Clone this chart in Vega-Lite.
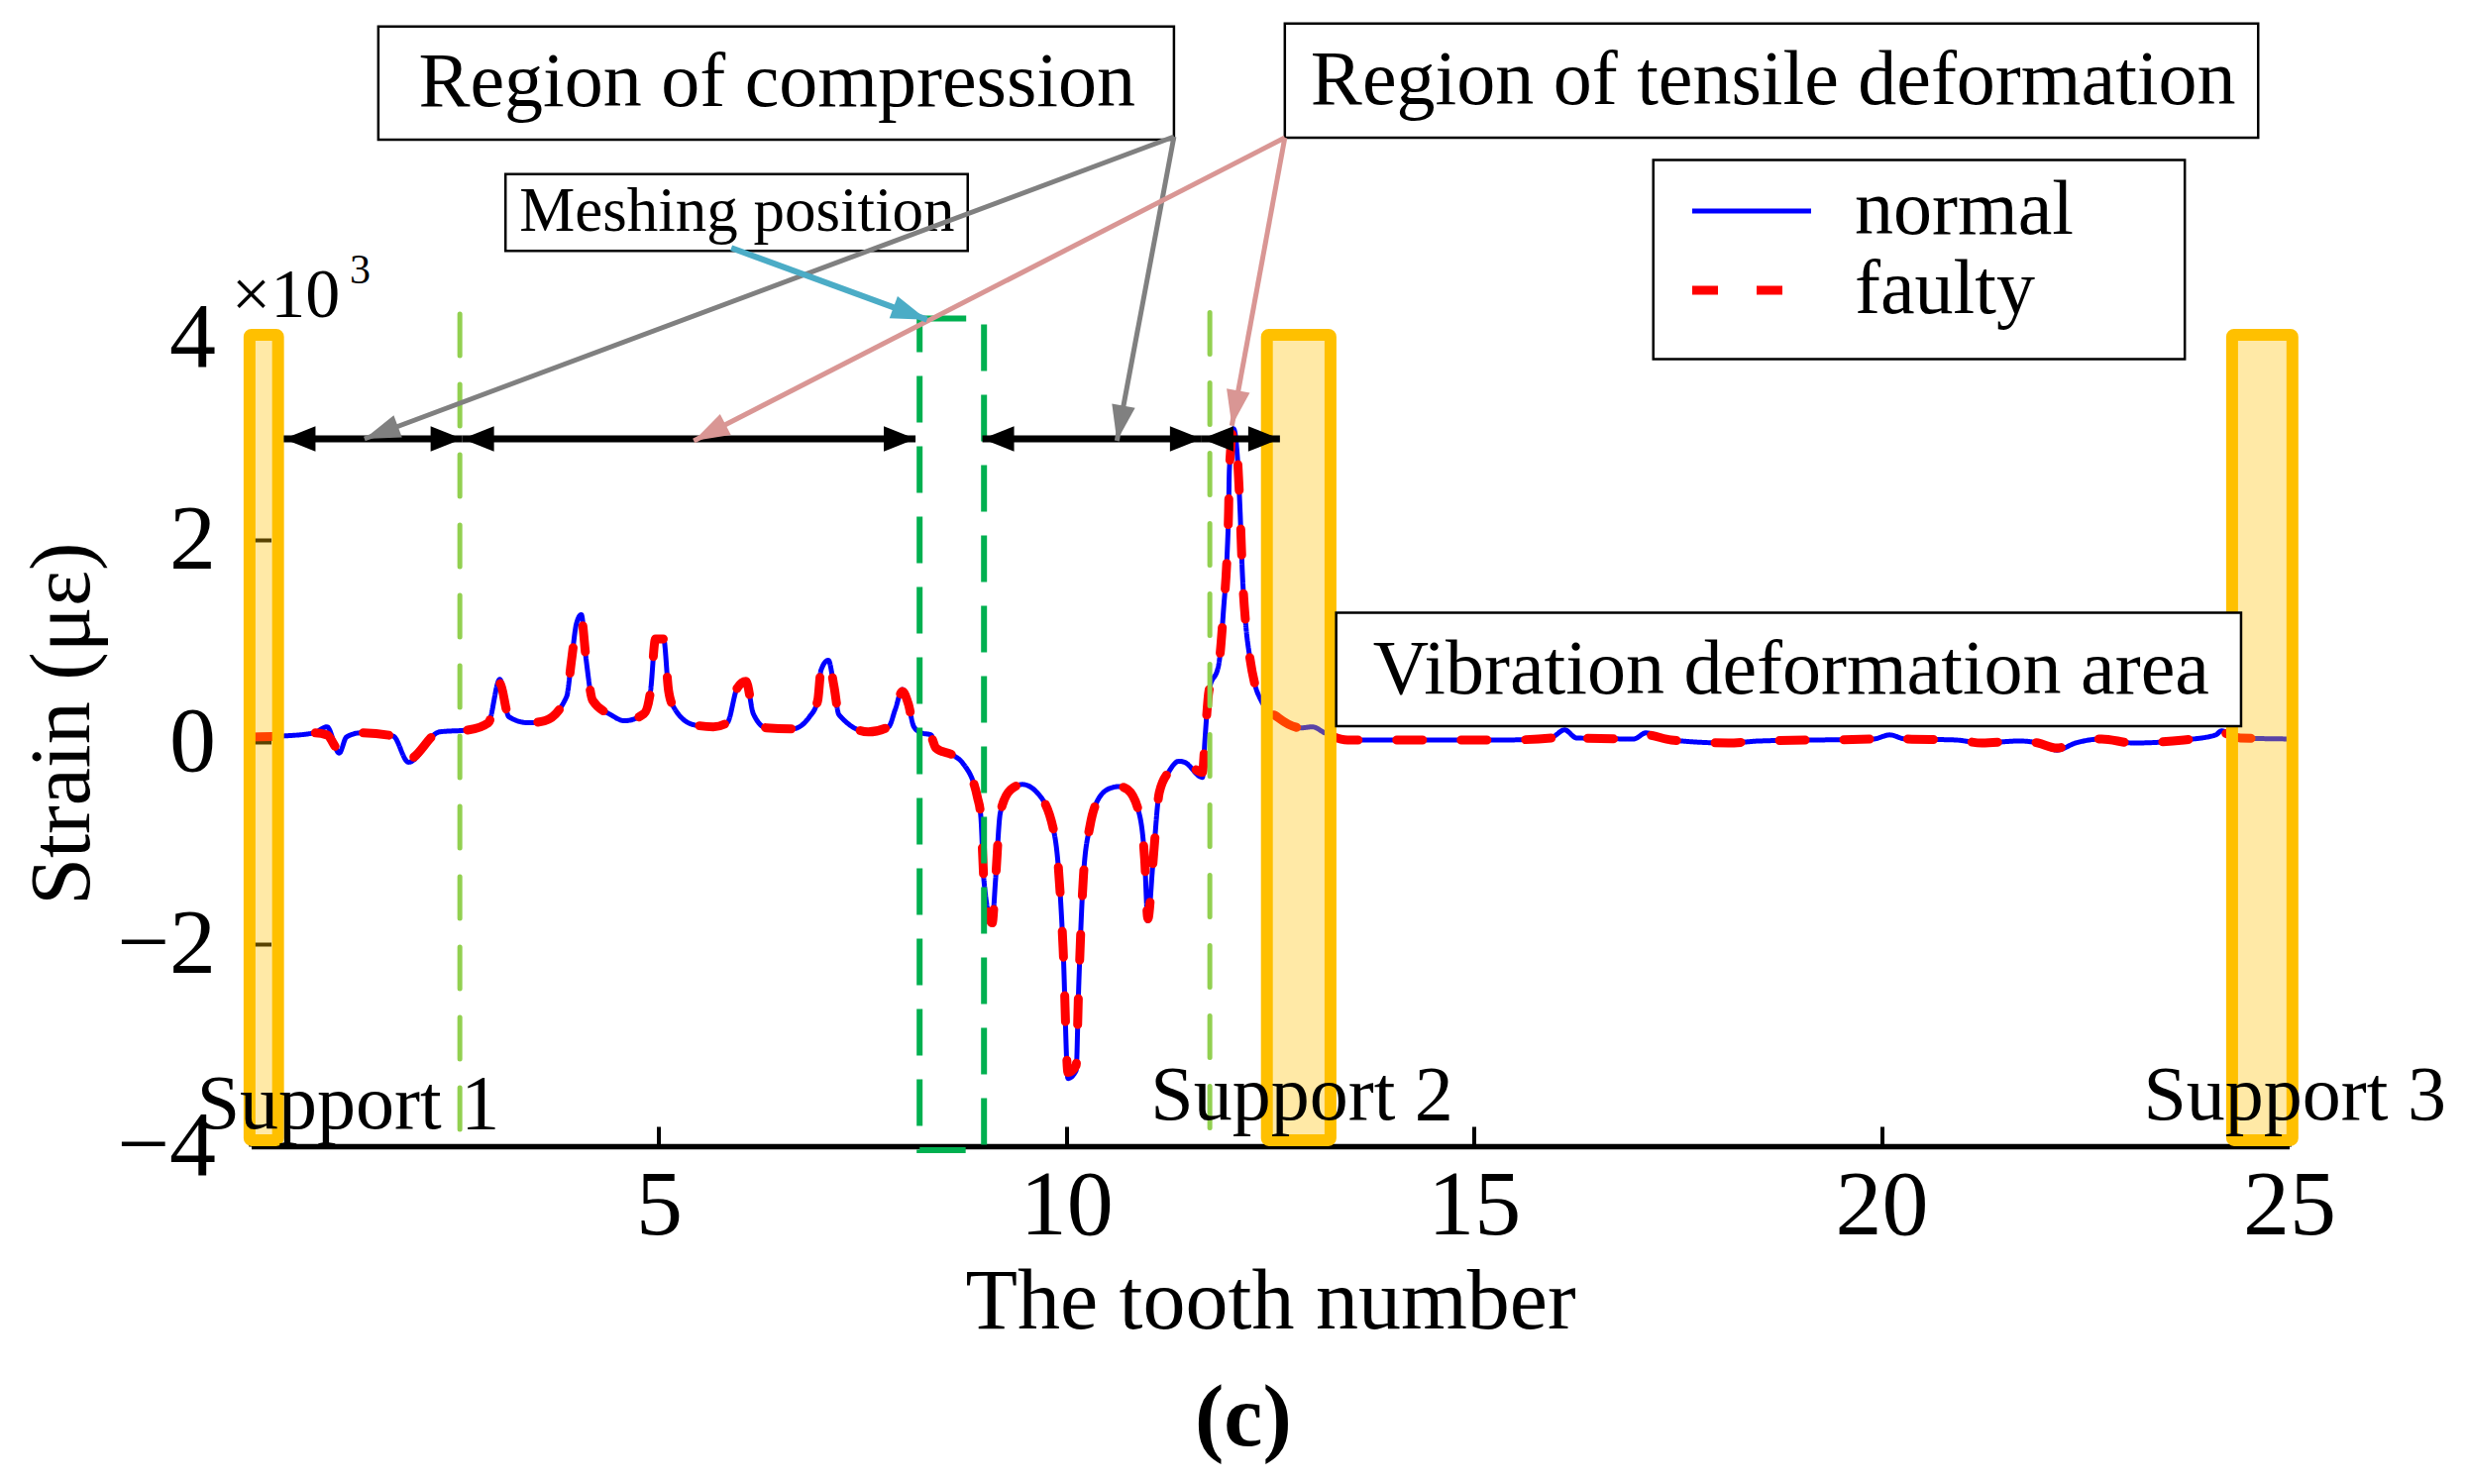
{
"$schema":"https://vega.github.io/schema/vega-lite/v6.json",
"width":2057,"height":816,
"autosize":{"type":"none"},
"padding":{"left":253.5,"top":341,"right":178.5,"bottom":341},
"background":"white",
"config":{
 "view":{"stroke":null},
 "font":"Liberation Serif",
 "axis":{"grid":false,"domainColor":"black","domainWidth":5.5,"tickColor":"black","tickWidth":4,"tickSize":-20,"labelFont":"Liberation Serif","labelFontSize":94,"labelColor":"black","labelFlush":false,"labelOverlap":false,"format":"d","titleFont":"Liberation Serif","titleFontSize":86,"titleFontWeight":"normal","titleColor":"black"},
 "legend":{"orient":"none","legendX":1475.5,"legendY":-167,"padding":0,"labelFont":"Liberation Serif","labelFontSize":78,"labelColor":"black","labelLimit":0,"labelOffset":65,"rowPadding":2,"symbolType":"M-2,0H2","symbolSize":3600,"symbolOffset":0}
},
"datasets":{
"curve":[
{"tooth":0,"strain":0.05,"series":"normal"},{"tooth":0.4,"strain":0.06,"series":"normal"},{"tooth":0.77,"strain":0.09,"series":"normal"},{"tooth":0.93,"strain":0.15,"series":"normal"},{"tooth":1.08,"strain":-0.11,"series":"normal"},{"tooth":1.17,"strain":0.05,"series":"normal"},{"tooth":1.34,"strain":0.09,"series":"normal"},{"tooth":1.74,"strain":0.06,"series":"normal"},{"tooth":1.93,"strain":-0.2,"series":"normal"},{"tooth":2.31,"strain":0.1,"series":"normal"},{"tooth":2.67,"strain":0.12,"series":"normal"},{"tooth":2.91,"strain":0.19,"series":"normal"},{"tooth":3.05,"strain":0.62,"series":"normal"},{"tooth":3.16,"strain":0.25,"series":"normal"},{"tooth":3.4,"strain":0.19,"series":"normal"},{"tooth":3.6,"strain":0.21,"series":"normal"},{"tooth":3.87,"strain":0.45,"series":"normal"},{"tooth":3.93,"strain":0.81,"series":"normal"},{"tooth":3.99,"strain":1.17,"series":"normal"},{"tooth":4.05,"strain":1.26,"series":"normal"},{"tooth":4.11,"strain":0.81,"series":"normal"},{"tooth":4.19,"strain":0.41,"series":"normal"},{"tooth":4.41,"strain":0.27,"series":"normal"},{"tooth":4.58,"strain":0.21,"series":"normal"},{"tooth":4.82,"strain":0.28,"series":"normal"},{"tooth":4.9,"strain":0.51,"series":"normal"},{"tooth":4.96,"strain":1.02,"series":"normal"},{"tooth":5.06,"strain":1.02,"series":"normal"},{"tooth":5.12,"strain":0.51,"series":"normal"},{"tooth":5.18,"strain":0.35,"series":"normal"},{"tooth":5.43,"strain":0.17,"series":"normal"},{"tooth":5.67,"strain":0.15,"series":"normal"},{"tooth":5.84,"strain":0.19,"series":"normal"},{"tooth":5.96,"strain":0.53,"series":"normal"},{"tooth":6.07,"strain":0.61,"series":"normal"},{"tooth":6.16,"strain":0.28,"series":"normal"},{"tooth":6.32,"strain":0.14,"series":"normal"},{"tooth":6.64,"strain":0.13,"series":"normal"},{"tooth":6.85,"strain":0.25,"series":"normal"},{"tooth":6.95,"strain":0.41,"series":"normal"},{"tooth":6.99,"strain":0.71,"series":"normal"},{"tooth":7.08,"strain":0.81,"series":"normal"},{"tooth":7.15,"strain":0.55,"series":"normal"},{"tooth":7.21,"strain":0.27,"series":"normal"},{"tooth":7.57,"strain":0.1,"series":"normal"},{"tooth":7.82,"strain":0.15,"series":"normal"},{"tooth":7.9,"strain":0.32,"series":"normal"},{"tooth":7.99,"strain":0.52,"series":"normal"},{"tooth":8.06,"strain":0.38,"series":"normal"},{"tooth":8.13,"strain":0.15,"series":"normal"},{"tooth":8.22,"strain":0.09,"series":"normal"},{"tooth":8.34,"strain":0.07,"series":"normal"},{"tooth":8.4,"strain":-0.06,"series":"normal"},{"tooth":8.63,"strain":-0.14,"series":"normal"},{"tooth":8.73,"strain":-0.21,"series":"normal"},{"tooth":8.91,"strain":-0.55,"series":"normal"},{"tooth":8.95,"strain":-0.73,"series":"normal"},{"tooth":8.99,"strain":-1.38,"series":"normal"},{"tooth":9.09,"strain":-1.79,"series":"normal"},{"tooth":9.13,"strain":-1.38,"series":"normal"},{"tooth":9.19,"strain":-0.7,"series":"normal"},{"tooth":9.32,"strain":-0.47,"series":"normal"},{"tooth":9.46,"strain":-0.42,"series":"normal"},{"tooth":9.64,"strain":-0.5,"series":"normal"},{"tooth":9.84,"strain":-0.86,"series":"normal"},{"tooth":9.9,"strain":-1.22,"series":"normal"},{"tooth":9.96,"strain":-2.04,"series":"normal"},{"tooth":10.02,"strain":-3.33,"series":"normal"},{"tooth":10.12,"strain":-3.25,"series":"normal"},{"tooth":10.15,"strain":-2.46,"series":"normal"},{"tooth":10.21,"strain":-1.32,"series":"normal"},{"tooth":10.29,"strain":-0.83,"series":"normal"},{"tooth":10.37,"strain":-0.6,"series":"normal"},{"tooth":10.53,"strain":-0.46,"series":"normal"},{"tooth":10.65,"strain":-0.44,"series":"normal"},{"tooth":10.75,"strain":-0.47,"series":"normal"},{"tooth":10.9,"strain":-0.73,"series":"normal"},{"tooth":10.96,"strain":-1.15,"series":"normal"},{"tooth":11.0,"strain":-1.77,"series":"normal"},{"tooth":11.06,"strain":-1.22,"series":"normal"},{"tooth":11.14,"strain":-0.5,"series":"normal"},{"tooth":11.26,"strain":-0.29,"series":"normal"},{"tooth":11.38,"strain":-0.19,"series":"normal"},{"tooth":11.45,"strain":-0.2,"series":"normal"},{"tooth":11.67,"strain":-0.35,"series":"normal"},{"tooth":11.7,"strain":0.02,"series":"normal"},{"tooth":11.75,"strain":0.51,"series":"normal"},{"tooth":11.87,"strain":0.77,"series":"normal"},{"tooth":11.93,"strain":1.33,"series":"normal"},{"tooth":11.97,"strain":1.82,"series":"normal"},{"tooth":11.99,"strain":2.28,"series":"normal"},{"tooth":12.0,"strain":2.7,"series":"normal"},{"tooth":12.05,"strain":3.1,"series":"normal"},{"tooth":12.1,"strain":2.8,"series":"normal"},{"tooth":12.13,"strain":2.31,"series":"normal"},{"tooth":12.16,"strain":1.66,"series":"normal"},{"tooth":12.2,"strain":1.17,"series":"normal"},{"tooth":12.25,"strain":0.84,"series":"normal"},{"tooth":12.31,"strain":0.58,"series":"normal"},{"tooth":12.39,"strain":0.41,"series":"normal"},{"tooth":12.6,"strain":0.24,"series":"normal"},{"tooth":12.88,"strain":0.14,"series":"normal"},{"tooth":13.02,"strain":0.15,"series":"normal"},{"tooth":13.17,"strain":0.09,"series":"normal"},{"tooth":13.45,"strain":0.02,"series":"normal"},{"tooth":15.41,"strain":0.02,"series":"normal"},{"tooth":15.96,"strain":0.05,"series":"normal"},{"tooth":16.11,"strain":0.12,"series":"normal"},{"tooth":16.26,"strain":0.04,"series":"normal"},{"tooth":16.96,"strain":0.03,"series":"normal"},{"tooth":17.11,"strain":0.09,"series":"normal"},{"tooth":17.42,"strain":0.02,"series":"normal"},{"tooth":18.12,"strain":-0.01,"series":"normal"},{"tooth":18.5,"strain":0.01,"series":"normal"},{"tooth":19.9,"strain":0.03,"series":"normal"},{"tooth":20.1,"strain":0.07,"series":"normal"},{"tooth":20.29,"strain":0.03,"series":"normal"},{"tooth":20.91,"strain":0.02,"series":"normal"},{"tooth":21.23,"strain":-0.01,"series":"normal"},{"tooth":21.69,"strain":0.01,"series":"normal"},{"tooth":21.92,"strain":-0.01,"series":"normal"},{"tooth":22.15,"strain":-0.08,"series":"normal"},{"tooth":22.38,"strain":-0.01,"series":"normal"},{"tooth":22.7,"strain":0.03,"series":"normal"},{"tooth":23.09,"strain":-0.01,"series":"normal"},{"tooth":23.71,"strain":0.02,"series":"normal"},{"tooth":24.1,"strain":0.07,"series":"normal"},{"tooth":24.17,"strain":0.11,"series":"normal"},{"tooth":24.4,"strain":0.04,"series":"normal"},{"tooth":25.0,"strain":0.03,"series":"normal"},
{"tooth":0,"strain":0.05,"series":"faulty"},{"tooth":0.4,"strain":0.06,"series":"faulty"},{"tooth":0.77,"strain":0.09,"series":"faulty"},{"tooth":0.93,"strain":0.07,"series":"faulty"},{"tooth":1.08,"strain":-0.08,"series":"faulty"},{"tooth":1.17,"strain":0.05,"series":"faulty"},{"tooth":1.34,"strain":0.09,"series":"faulty"},{"tooth":1.74,"strain":0.06,"series":"faulty"},{"tooth":1.93,"strain":-0.17,"series":"faulty"},{"tooth":2.31,"strain":0.1,"series":"faulty"},{"tooth":2.67,"strain":0.12,"series":"faulty"},{"tooth":2.91,"strain":0.19,"series":"faulty"},{"tooth":3.05,"strain":0.58,"series":"faulty"},{"tooth":3.16,"strain":0.25,"series":"faulty"},{"tooth":3.4,"strain":0.19,"series":"faulty"},{"tooth":3.6,"strain":0.21,"series":"faulty"},{"tooth":3.87,"strain":0.45,"series":"faulty"},{"tooth":3.93,"strain":0.81,"series":"faulty"},{"tooth":3.99,"strain":1.15,"series":"faulty"},{"tooth":4.05,"strain":1.22,"series":"faulty"},{"tooth":4.11,"strain":0.81,"series":"faulty"},{"tooth":4.19,"strain":0.41,"series":"faulty"},{"tooth":4.41,"strain":0.27,"series":"faulty"},{"tooth":4.58,"strain":0.21,"series":"faulty"},{"tooth":4.82,"strain":0.28,"series":"faulty"},{"tooth":4.9,"strain":0.51,"series":"faulty"},{"tooth":4.96,"strain":1.02,"series":"faulty"},{"tooth":5.06,"strain":1.02,"series":"faulty"},{"tooth":5.12,"strain":0.51,"series":"faulty"},{"tooth":5.18,"strain":0.35,"series":"faulty"},{"tooth":5.43,"strain":0.17,"series":"faulty"},{"tooth":5.67,"strain":0.15,"series":"faulty"},{"tooth":5.84,"strain":0.19,"series":"faulty"},{"tooth":5.96,"strain":0.53,"series":"faulty"},{"tooth":6.07,"strain":0.6,"series":"faulty"},{"tooth":6.16,"strain":0.28,"series":"faulty"},{"tooth":6.32,"strain":0.14,"series":"faulty"},{"tooth":6.64,"strain":0.13,"series":"faulty"},{"tooth":6.85,"strain":0.25,"series":"faulty"},{"tooth":6.95,"strain":0.41,"series":"faulty"},{"tooth":6.99,"strain":0.71,"series":"faulty"},{"tooth":7.08,"strain":0.81,"series":"faulty"},{"tooth":7.15,"strain":0.55,"series":"faulty"},{"tooth":7.21,"strain":0.27,"series":"faulty"},{"tooth":7.57,"strain":0.1,"series":"faulty"},{"tooth":7.82,"strain":0.15,"series":"faulty"},{"tooth":7.9,"strain":0.32,"series":"faulty"},{"tooth":7.99,"strain":0.5,"series":"faulty"},{"tooth":8.06,"strain":0.38,"series":"faulty"},{"tooth":8.13,"strain":0.15,"series":"faulty"},{"tooth":8.22,"strain":0.09,"series":"faulty"},{"tooth":8.34,"strain":0.05,"series":"faulty"},{"tooth":8.4,"strain":-0.06,"series":"faulty"},{"tooth":8.63,"strain":-0.14,"series":"faulty"},{"tooth":8.73,"strain":-0.21,"series":"faulty"},{"tooth":8.91,"strain":-0.55,"series":"faulty"},{"tooth":8.95,"strain":-0.73,"series":"faulty"},{"tooth":8.99,"strain":-1.38,"series":"faulty"},{"tooth":9.09,"strain":-1.79,"series":"faulty"},{"tooth":9.13,"strain":-1.38,"series":"faulty"},{"tooth":9.19,"strain":-0.7,"series":"faulty"},{"tooth":9.32,"strain":-0.47,"series":"faulty"},{"tooth":9.46,"strain":-0.42,"series":"faulty"},{"tooth":9.64,"strain":-0.5,"series":"faulty"},{"tooth":9.84,"strain":-0.86,"series":"faulty"},{"tooth":9.9,"strain":-1.22,"series":"faulty"},{"tooth":9.96,"strain":-2.04,"series":"faulty"},{"tooth":10.02,"strain":-3.27,"series":"faulty"},{"tooth":10.12,"strain":-3.2,"series":"faulty"},{"tooth":10.15,"strain":-2.46,"series":"faulty"},{"tooth":10.21,"strain":-1.32,"series":"faulty"},{"tooth":10.29,"strain":-0.83,"series":"faulty"},{"tooth":10.37,"strain":-0.6,"series":"faulty"},{"tooth":10.53,"strain":-0.46,"series":"faulty"},{"tooth":10.65,"strain":-0.44,"series":"faulty"},{"tooth":10.75,"strain":-0.47,"series":"faulty"},{"tooth":10.9,"strain":-0.73,"series":"faulty"},{"tooth":10.96,"strain":-1.15,"series":"faulty"},{"tooth":11.0,"strain":-1.75,"series":"faulty"},{"tooth":11.06,"strain":-1.22,"series":"faulty"},{"tooth":11.14,"strain":-0.5,"series":"faulty"},{"tooth":11.26,"strain":-0.29,"series":"faulty"},{"tooth":11.38,"strain":-0.19,"series":"faulty"},{"tooth":11.45,"strain":-0.2,"series":"faulty"},{"tooth":11.67,"strain":-0.3,"series":"faulty"},{"tooth":11.7,"strain":0.02,"series":"faulty"},{"tooth":11.75,"strain":0.51,"series":"faulty"},{"tooth":11.87,"strain":0.77,"series":"faulty"},{"tooth":11.93,"strain":1.33,"series":"faulty"},{"tooth":11.97,"strain":1.82,"series":"faulty"},{"tooth":11.99,"strain":2.28,"series":"faulty"},{"tooth":12.0,"strain":2.7,"series":"faulty"},{"tooth":12.05,"strain":3.08,"series":"faulty"},{"tooth":12.1,"strain":2.8,"series":"faulty"},{"tooth":12.13,"strain":2.31,"series":"faulty"},{"tooth":12.16,"strain":1.66,"series":"faulty"},{"tooth":12.2,"strain":1.17,"series":"faulty"},{"tooth":12.25,"strain":0.84,"series":"faulty"},{"tooth":12.31,"strain":0.58,"series":"faulty"},{"tooth":12.39,"strain":0.41,"series":"faulty"},{"tooth":12.6,"strain":0.24,"series":"faulty"},{"tooth":12.88,"strain":0.14,"series":"faulty"},{"tooth":13.02,"strain":0.15,"series":"faulty"},{"tooth":13.17,"strain":0.09,"series":"faulty"},{"tooth":13.45,"strain":0.02,"series":"faulty"},{"tooth":15.41,"strain":0.02,"series":"faulty"},{"tooth":15.96,"strain":0.04,"series":"faulty"},{"tooth":16.11,"strain":0.09,"series":"faulty"},{"tooth":16.26,"strain":0.04,"series":"faulty"},{"tooth":16.96,"strain":0.03,"series":"faulty"},{"tooth":17.11,"strain":0.07,"series":"faulty"},{"tooth":17.42,"strain":0.02,"series":"faulty"},{"tooth":18.12,"strain":-0.01,"series":"faulty"},{"tooth":18.5,"strain":0.01,"series":"faulty"},{"tooth":19.9,"strain":0.03,"series":"faulty"},{"tooth":20.1,"strain":0.06,"series":"faulty"},{"tooth":20.29,"strain":0.03,"series":"faulty"},{"tooth":20.91,"strain":0.02,"series":"faulty"},{"tooth":21.23,"strain":-0.01,"series":"faulty"},{"tooth":21.69,"strain":0.01,"series":"faulty"},{"tooth":21.92,"strain":-0.01,"series":"faulty"},{"tooth":22.15,"strain":-0.06,"series":"faulty"},{"tooth":22.38,"strain":-0.01,"series":"faulty"},{"tooth":22.7,"strain":0.03,"series":"faulty"},{"tooth":23.09,"strain":-0.01,"series":"faulty"},{"tooth":23.71,"strain":0.02,"series":"faulty"},{"tooth":24.1,"strain":0.06,"series":"faulty"},{"tooth":24.17,"strain":0.09,"series":"faulty"},{"tooth":24.4,"strain":0.04,"series":"faulty"},{"tooth":25.0,"strain":0.03,"series":"faulty"}
],
"guides":[{"x":2.56,"ytop":4.235,"ybot":-3.86},{"x":11.76,"ytop":4.25,"ybot":-3.86}],
"mesh":[{"x1":8.2,"x2":8.99,"ytop":4.19,"ybot":-4.04}],
"supports":[
 {"label":"Support 1","x1":-0.02,"x2":0.33,"ytop":4.03,"ybot":-3.94,"lx":1.19,"ly":-3.82},
 {"label":"Support 2","x1":12.46,"x2":13.24,"ytop":4.03,"ybot":-3.94,"lx":12.89,"ly":-3.735},
 {"label":"Support 3","x1":24.3,"x2":25.04,"ytop":4.03,"ybot":-3.94,"lx":25.07,"ly":-3.735}
],
"spans":[{"x1":0.4,"x2":2.59,"y":3},{"x1":2.59,"x2":8.15,"y":3},{"x1":8.97,"x2":11.66,"y":3},{"x1":11.66,"x2":12.62,"y":3}],
"boxes":[
 {"kind":"big","text":"Region of compression","x1":1.56,"x2":11.32,"y1":7.08,"y2":5.96,"tx":6.45,"ty":6.29},
 {"kind":"small","text":"Meshing position","x1":3.12,"x2":8.79,"y1":5.62,"y2":4.86,"tx":5.96,"ty":5.06},
 {"kind":"big","text":"Region of tensile deformation","x1":12.68,"x2":24.62,"y1":7.11,"y2":5.98,"tx":18.67,"ty":6.31},
 {"kind":"big","text":"Vibration deformation area","x1":13.31,"x2":24.41,"y1":1.28,"y2":0.157,"tx":18.89,"ty":0.48},
 {"kind":"legend","text":"","x1":17.2,"x2":23.72,"y1":5.76,"y2":3.79,"tx":20,"ty":5}
],
"pointers":[
 {"id":"g1","kind":"gray","x1":11.32,"y1":5.99,"x2":1.39,"y2":3.0},
 {"id":"g2","kind":"gray","x1":11.32,"y1":5.99,"x2":10.62,"y2":2.98},
 {"id":"p1","kind":"pink","x1":12.68,"y1":5.98,"x2":5.43,"y2":2.98},
 {"id":"p2","kind":"pink","x1":12.68,"y1":5.98,"x2":12.03,"y2":3.13},
 {"id":"b1","kind":"blue","x1":5.89,"y1":4.89,"x2":8.29,"y2":4.18}
],
"notes":[
 {"kind":"exp","text":"×10","x":-0.24,"y":4.21},
 {"kind":"sup","text":"3","x":1.21,"y":4.54},
 {"kind":"caption","text":"(c)","x":12.17,"y":-6.96}
]
},
"layer":[
 {"data":{"name":"curve"},"transform":[{"filter":"datum.series === 'normal'"}],
  "mark":{"type":"line","interpolate":"monotone"},
  "encoding":{
   "x":{"field":"tooth","type":"quantitative","scale":{"domain":[0,25],"nice":false,"zero":false},"axis":{"values":[5,10,15,20,25],"labelPadding":34,"title":"The tooth number","titleBaseline":"alphabetic","titleY":183}},
   "y":{"field":"strain","type":"quantitative","scale":{"domain":[-4,4],"nice":false,"zero":false},"axis":{"values":[-4,-2,0,2,4],"labelPadding":56,"title":"Strain (με)","titleBaseline":"alphabetic","titleX":-164,"titleY":389}},
   "color":{"field":"series","type":"nominal","scale":{"domain":["normal","faulty"],"range":["#0000FF","#FF0000"]},"legend":{"title":null,"labelExpr":"datum.label == 'faulty' ? '\u2002faulty' : datum.label"}},
   "strokeDash":{"field":"series","type":"nominal","scale":{"domain":["normal","faulty"],"range":[[1,0],[26,39]]},"legend":{"title":null,"labelExpr":"datum.label == 'faulty' ? '\u2002faulty' : datum.label"}},
   "strokeWidth":{"field":"series","type":"nominal","scale":{"domain":["normal","faulty"],"range":[5,9]},"legend":{"title":null,"labelExpr":"datum.label == 'faulty' ? '\u2002faulty' : datum.label"}}
  }},
 {"data":{"name":"curve"},"transform":[{"filter":"datum.series === 'faulty'"}],
  "mark":{"type":"line","interpolate":"monotone","strokeCap":"round"},
  "encoding":{
   "x":{"field":"tooth","type":"quantitative"},
   "y":{"field":"strain","type":"quantitative"},
   "color":{"field":"series","type":"nominal","scale":{"domain":["normal","faulty"],"range":["#0000FF","#FF0000"]},"legend":{"title":null,"labelExpr":"datum.label == 'faulty' ? '\u2002faulty' : datum.label"}},
   "strokeDash":{"field":"series","type":"nominal","scale":{"domain":["normal","faulty"],"range":[[1,0],[26,39]]},"legend":{"title":null,"labelExpr":"datum.label == 'faulty' ? '\u2002faulty' : datum.label"}},
   "strokeWidth":{"field":"series","type":"nominal","scale":{"domain":["normal","faulty"],"range":[5,9]},"legend":{"title":null,"labelExpr":"datum.label == 'faulty' ? '\u2002faulty' : datum.label"}}
  }},
 {"data":{"name":"guides"},"mark":{"type":"rule","color":"#92D050","strokeWidth":5,"strokeDash":[42,29],"strokeCap":"round"},
  "encoding":{"x":{"field":"x","type":"quantitative"},"y":{"field":"ytop","type":"quantitative"},"y2":{"field":"ybot"}}},
 {"data":{"name":"mesh"},"mark":{"type":"rect","fill":"white","fillOpacity":0,"stroke":"#00B050","strokeWidth":6,"strokeDash":[47,24]},
  "encoding":{"x":{"field":"x1","type":"quantitative"},"x2":{"field":"x2"},"y":{"field":"ytop","type":"quantitative"},"y2":{"field":"ybot"}}},
 {"data":{"name":"supports"},"mark":{"type":"rect","fill":"#FFC000","fillOpacity":0.35,"stroke":"#FFC000","strokeOpacity":1,"strokeWidth":12,"strokeJoin":"round","cornerRadius":2},
  "encoding":{"x":{"field":"x1","type":"quantitative"},"x2":{"field":"x2"},"y":{"field":"ytop","type":"quantitative"},"y2":{"field":"ybot"}}},
 {"data":{"name":"spans"},"mark":{"type":"rule","color":"black","strokeWidth":7},
  "encoding":{"x":{"field":"x1","type":"quantitative"},"x2":{"field":"x2"},"y":{"field":"y","type":"quantitative"}}},
 {"data":{"name":"spans"},"mark":{"type":"point","shape":"M0,0L1,-0.4L1,0.4Z","filled":true,"size":4096,"color":"black","opacity":1,"strokeWidth":0},
  "encoding":{"x":{"field":"x1","type":"quantitative"},"y":{"field":"y","type":"quantitative"}}},
 {"data":{"name":"spans"},"mark":{"type":"point","shape":"M0,0L-1,-0.4L-1,0.4Z","filled":true,"size":4096,"color":"black","opacity":1,"strokeWidth":0},
  "encoding":{"x":{"field":"x2","type":"quantitative"},"y":{"field":"y","type":"quantitative"}}},
 {"data":{"name":"boxes"},"mark":{"type":"rect","fill":"white","stroke":"black","strokeWidth":2.5},
  "encoding":{"x":{"field":"x1","type":"quantitative"},"x2":{"field":"x2"},"y":{"field":"y1","type":"quantitative"},"y2":{"field":"y2"}}},
 {"data":{"name":"boxes"},"transform":[{"filter":"datum.kind === 'big'"}],"mark":{"type":"text","font":"Liberation Serif","fontSize":78,"color":"black","align":"center","baseline":"alphabetic"},
  "encoding":{"x":{"field":"tx","type":"quantitative"},"y":{"field":"ty","type":"quantitative"},"text":{"field":"text"}}},
 {"data":{"name":"boxes"},"transform":[{"filter":"datum.kind === 'small'"}],"mark":{"type":"text","font":"Liberation Serif","fontSize":63,"color":"black","align":"center","baseline":"alphabetic"},
  "encoding":{"x":{"field":"tx","type":"quantitative"},"y":{"field":"ty","type":"quantitative"},"text":{"field":"text"}}},
 {"data":{"name":"notes"},"transform":[{"filter":"datum.kind === 'exp'"}],"mark":{"type":"text","font":"Liberation Serif","fontSize":70,"color":"black","align":"left","baseline":"alphabetic"},
  "encoding":{"x":{"field":"x","type":"quantitative"},"y":{"field":"y","type":"quantitative"},"text":{"field":"text"}}},
 {"data":{"name":"notes"},"transform":[{"filter":"datum.kind === 'sup'"}],"mark":{"type":"text","font":"Liberation Serif","fontSize":42,"color":"black","align":"left","baseline":"alphabetic"},
  "encoding":{"x":{"field":"x","type":"quantitative"},"y":{"field":"y","type":"quantitative"},"text":{"field":"text"}}},
 {"data":{"name":"notes"},"transform":[{"filter":"datum.kind === 'caption'"}],"mark":{"type":"text","font":"Liberation Serif","fontSize":88,"fontWeight":"bold","color":"black","align":"center","baseline":"alphabetic"},
  "encoding":{"x":{"field":"x","type":"quantitative"},"y":{"field":"y","type":"quantitative"},"text":{"field":"text"}}},
 {"data":{"name":"pointers"},"transform":[{"filter":"datum.kind === 'gray'"}],"mark":{"type":"rule","color":"#808080","strokeWidth":5},
  "encoding":{"x":{"field":"x1","type":"quantitative"},"y":{"field":"y1","type":"quantitative"},"x2":{"field":"x2"},"y2":{"field":"y2"}}},
 {"data":{"name":"pointers"},"transform":[{"filter":"datum.kind === 'pink'"}],"mark":{"type":"rule","color":"#D99694","strokeWidth":5},
  "encoding":{"x":{"field":"x1","type":"quantitative"},"y":{"field":"y1","type":"quantitative"},"x2":{"field":"x2"},"y2":{"field":"y2"}}},
 {"data":{"name":"pointers"},"transform":[{"filter":"datum.kind === 'blue'"}],"mark":{"type":"rule","color":"#4BACC6","strokeWidth":6},
  "encoding":{"x":{"field":"x1","type":"quantitative"},"y":{"field":"y1","type":"quantitative"},"x2":{"field":"x2"},"y2":{"field":"y2"}}},
 {"data":{"name":"pointers"},"transform":[{"filter":"datum.id === 'g1'"}],"mark":{"type":"point","shape":"M0,0L-1,-0.33L-1,0.33Z","filled":true,"size":5184,"color":"#808080","opacity":1,"strokeWidth":0,"angle":159.5},
  "encoding":{"x":{"field":"x2","type":"quantitative"},"y":{"field":"y2","type":"quantitative"}}},
 {"data":{"name":"pointers"},"transform":[{"filter":"datum.id === 'g2'"}],"mark":{"type":"point","shape":"M0,0L-1,-0.33L-1,0.33Z","filled":true,"size":5184,"color":"#808080","opacity":1,"strokeWidth":0,"angle":100.7},
  "encoding":{"x":{"field":"x2","type":"quantitative"},"y":{"field":"y2","type":"quantitative"}}},
 {"data":{"name":"pointers"},"transform":[{"filter":"datum.id === 'p1'"}],"mark":{"type":"point","shape":"M0,0L-1,-0.33L-1,0.33Z","filled":true,"size":5184,"color":"#D99694","opacity":1,"strokeWidth":0,"angle":152.7},
  "encoding":{"x":{"field":"x2","type":"quantitative"},"y":{"field":"y2","type":"quantitative"}}},
 {"data":{"name":"pointers"},"transform":[{"filter":"datum.id === 'p2'"}],"mark":{"type":"point","shape":"M0,0L-1,-0.33L-1,0.33Z","filled":true,"size":5184,"color":"#D99694","opacity":1,"strokeWidth":0,"angle":100.3},
  "encoding":{"x":{"field":"x2","type":"quantitative"},"y":{"field":"y2","type":"quantitative"}}},
 {"data":{"name":"pointers"},"transform":[{"filter":"datum.id === 'b1'"}],"mark":{"type":"point","shape":"M0,0L-1,-0.33L-1,0.33Z","filled":true,"size":5184,"color":"#4BACC6","opacity":1,"strokeWidth":0,"angle":20.3},
  "encoding":{"x":{"field":"x2","type":"quantitative"},"y":{"field":"y2","type":"quantitative"}}},
 {"data":{"name":"supports"},"mark":{"type":"text","font":"Liberation Serif","fontSize":78,"color":"black","align":"center","baseline":"alphabetic"},
  "encoding":{"x":{"field":"lx","type":"quantitative"},"y":{"field":"ly","type":"quantitative"},"text":{"field":"label"}}}
]
}
